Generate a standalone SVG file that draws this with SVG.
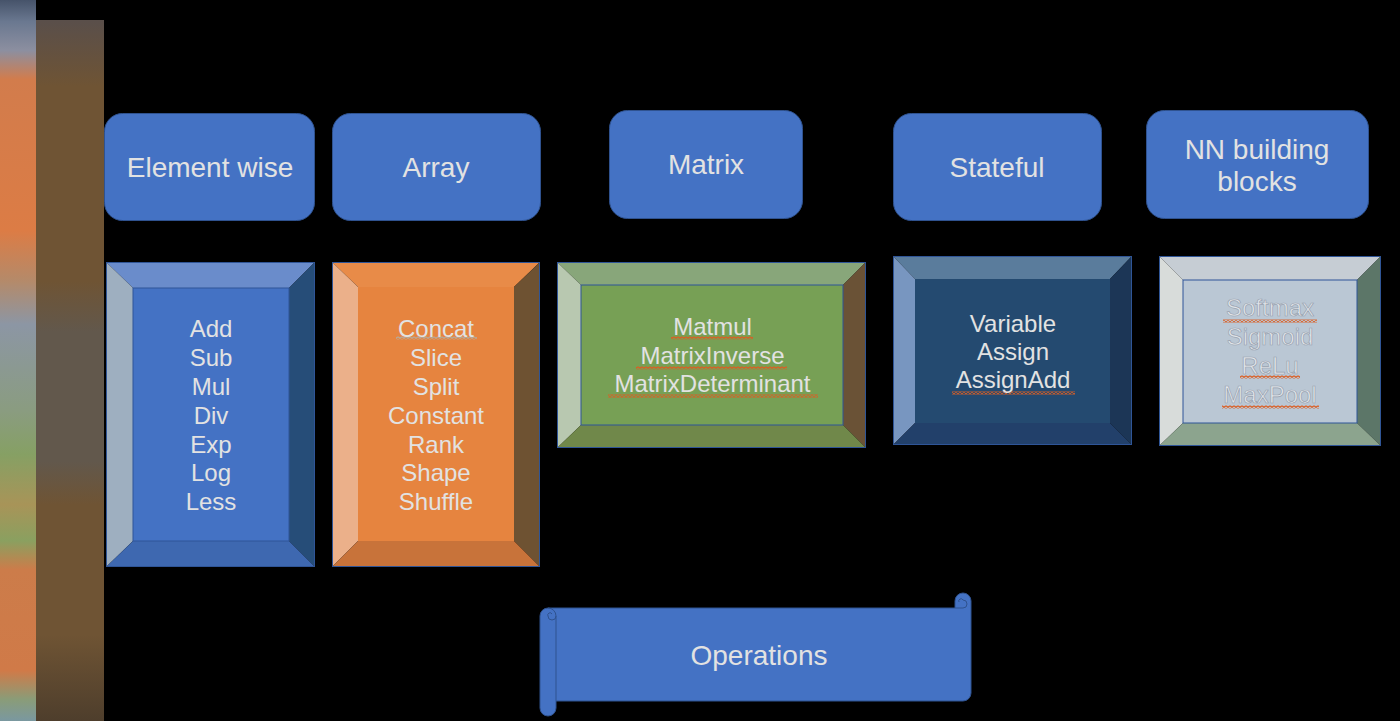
<svg xmlns="http://www.w3.org/2000/svg" width="1400" height="721" viewBox="0 0 1400 721">
  <defs>
    <linearGradient id="stripA" x1="0" y1="0" x2="0" y2="721" gradientUnits="userSpaceOnUse">
      <stop offset="0" stop-color="#46536A"/>
      <stop offset="0.03" stop-color="#6A7890"/>
      <stop offset="0.07" stop-color="#8C8FA0"/>
      <stop offset="0.11" stop-color="#D27C4C"/>
      <stop offset="0.32" stop-color="#DC7C45"/>
      <stop offset="0.39" stop-color="#B48A6A"/>
      <stop offset="0.45" stop-color="#8C96A4"/>
      <stop offset="0.57" stop-color="#8A9C80"/>
      <stop offset="0.63" stop-color="#86A064"/>
      <stop offset="0.70" stop-color="#A89458"/>
      <stop offset="0.75" stop-color="#8AA060"/>
      <stop offset="0.79" stop-color="#CC7C4A"/>
      <stop offset="0.93" stop-color="#D07A48"/>
      <stop offset="0.97" stop-color="#8A9C78"/>
      <stop offset="1" stop-color="#7A98A0"/>
    </linearGradient>
    <linearGradient id="stripB" x1="0" y1="0" x2="0" y2="721" gradientUnits="userSpaceOnUse">
      <stop offset="0.03" stop-color="#5A4F4A"/>
      <stop offset="0.12" stop-color="#6F5434"/>
      <stop offset="0.39" stop-color="#6F5434"/>
      <stop offset="0.46" stop-color="#62584C"/>
      <stop offset="0.64" stop-color="#62584C"/>
      <stop offset="0.70" stop-color="#6F5434"/>
      <stop offset="0.88" stop-color="#6F5434"/>
      <stop offset="1" stop-color="#4E3E2C"/>
    </linearGradient>
    <pattern id="squig" patternUnits="userSpaceOnUse" width="4" height="3">
      <path d="M0,2.5 L2,0.5 L4,2.5" fill="none" stroke="#DA5E24" stroke-width="1.4"/>
    </pattern>
    <pattern id="squigGray" patternUnits="userSpaceOnUse" width="4" height="3">
      <path d="M0,2.5 L2,0.5 L4,2.5" fill="none" stroke="#B8A898" stroke-width="1.4"/>
    </pattern>
  </defs>
  <style>
    .hdr { fill: #4472C4; stroke: #2F528F; stroke-width: 1; }
    .lbl { font-family: "Liberation Sans", Arial, Helvetica, sans-serif; fill: #E2E2E2; text-anchor: middle; }
    .big { font-size: 28px; }
    .ops { font-size: 24px; }
    .edge { stroke: #2F5597; stroke-width: 1; }
    .nn { fill: #E2E6EA; stroke: #98A2B0; stroke-width: 0.7; }
  </style>

  <rect x="0" y="0" width="1400" height="721" fill="#000000"/>

  <!-- left decorative strips -->
  <g id="strips">
    <rect x="0" y="0" width="36" height="721" fill="url(#stripA)"/>
    <rect x="36" y="20" width="68" height="701" fill="url(#stripB)"/>
  </g>

  <!-- header nodes -->
  <g id="hdr-elementwise">
    <rect class="hdr" x="104.5" y="113.5" width="210" height="107" rx="18"/>
    <text class="lbl big" x="210" y="177">Element wise</text>
  </g>
  <g id="hdr-array">
    <rect class="hdr" x="332.5" y="113.5" width="208" height="107" rx="18"/>
    <text class="lbl big" x="436" y="177">Array</text>
  </g>
  <g id="hdr-matrix">
    <rect class="hdr" x="609.5" y="110.5" width="193" height="108" rx="18"/>
    <text class="lbl big" x="706" y="174">Matrix</text>
  </g>
  <g id="hdr-stateful">
    <rect class="hdr" x="893.5" y="113.5" width="208" height="107" rx="18"/>
    <text class="lbl big" x="997" y="177">Stateful</text>
  </g>
  <g id="hdr-nn">
    <rect class="hdr" x="1146.5" y="110.5" width="222" height="108" rx="18"/>
    <text class="lbl big" x="1257" y="159">NN building</text>
    <text class="lbl big" x="1257" y="191">blocks</text>
  </g>

  <!-- bevel boxes -->
  <g id="box-elementwise">
    <polygon points="106,262 315,262 289,288 133,288" fill="#6A8CCB"/>
    <polygon points="106,262 133,288 133,541 106,567" fill="#9EAFC0"/>
    <polygon points="315,262 315,567 289,541 289,288" fill="#264D78"/>
    <polygon points="106,567 133,541 289,541 315,567" fill="#3E68B0"/>
    <rect x="133" y="288" width="156" height="253" fill="#4472C4" class="edge"/>
    <rect x="106.5" y="262.5" width="208" height="304" fill="none" class="edge"/>
    <text class="lbl ops" x="211" y="337">Add</text>
    <text class="lbl ops" x="211" y="366">Sub</text>
    <text class="lbl ops" x="211" y="394.5">Mul</text>
    <text class="lbl ops" x="211" y="423.5">Div</text>
    <text class="lbl ops" x="211" y="452.5">Exp</text>
    <text class="lbl ops" x="211" y="481">Log</text>
    <text class="lbl ops" x="211" y="510">Less</text>
  </g>

  <g id="box-array">
    <polygon points="332,262 540,262 514,287 358,287" fill="#E88B48"/>
    <polygon points="332,262 358,287 358,541 332,567" fill="#EBB08A"/>
    <polygon points="540,262 540,567 514,541 514,287" fill="#6E5232"/>
    <polygon points="332,567 358,541 514,541 540,567" fill="#C8733A"/>
    <rect x="358" y="287" width="156" height="254" fill="#E6843F"/>
    <rect x="332.5" y="262.5" width="207" height="304" fill="none" class="edge"/>
    <rect x="396" y="336.5" width="81" height="3" fill="url(#squigGray)"/>
    <text class="lbl ops" x="436" y="337">Concat</text>
    <text class="lbl ops" x="436" y="366">Slice</text>
    <text class="lbl ops" x="436" y="394.5">Split</text>
    <text class="lbl ops" x="436" y="423.5">Constant</text>
    <text class="lbl ops" x="436" y="452.5">Rank</text>
    <text class="lbl ops" x="436" y="481">Shape</text>
    <text class="lbl ops" x="436" y="510">Shuffle</text>
  </g>

  <g id="box-matrix">
    <polygon points="557,262 866,262 843,285 581,285" fill="#88A67A"/>
    <polygon points="557,262 581,285 581,425 557,448" fill="#B8C8B0"/>
    <polygon points="866,262 866,448 843,425 843,285" fill="#6A5236"/>
    <polygon points="557,448 581,425 843,425 866,448" fill="#70884A"/>
    <rect x="581" y="285" width="262" height="140" fill="#77A055" class="edge"/>
    <rect x="557.5" y="262.5" width="308" height="185" fill="none" class="edge"/>
    <rect x="671" y="336.5" width="82" height="3" fill="url(#squig)"/>
    <rect x="636" y="366.5" width="151" height="3" fill="url(#squig)"/>
    <rect x="608" y="394.5" width="210" height="3" fill="url(#squig)"/>
    <text class="lbl ops" x="712.5" y="335">Matmul</text>
    <text class="lbl ops" x="712.5" y="364">MatrixInverse</text>
    <text class="lbl ops" x="712.5" y="392">MatrixDeterminant</text>
  </g>

  <g id="box-stateful">
    <polygon points="893,256 1132,256 1110,279 915,279" fill="#5A7C9C"/>
    <polygon points="893,256 915,279 915,423 893,445" fill="#7896C0"/>
    <polygon points="1132,256 1132,445 1110,423 1110,279" fill="#1C3656"/>
    <polygon points="893,445 915,423 1110,423 1132,445" fill="#22406A"/>
    <rect x="915" y="279" width="195" height="144" fill="#244A70"/>
    <rect x="893.5" y="256.5" width="238" height="188" fill="none" class="edge"/>
    <rect x="952" y="391.5" width="123" height="3" fill="url(#squig)"/>
    <text class="lbl ops" x="1013" y="332">Variable</text>
    <text class="lbl ops" x="1013" y="360">Assign</text>
    <text class="lbl ops" x="1013" y="388">AssignAdd</text>
  </g>

  <g id="box-nn">
    <polygon points="1159,256 1381,256 1357,280 1183,280" fill="#C6CDD4"/>
    <polygon points="1159,256 1183,280 1183,423 1159,446" fill="#D8DCDA"/>
    <polygon points="1381,256 1381,446 1357,423 1357,280" fill="#5C7668"/>
    <polygon points="1159,446 1183,423 1357,423 1381,446" fill="#8CA48E"/>
    <rect x="1183" y="280" width="174" height="143" fill="#BAC7D4" class="edge"/>
    <rect x="1159.5" y="256.5" width="221" height="189" fill="none" class="edge"/>
    <rect x="1223" y="319.5" width="94" height="3" fill="url(#squig)"/>
    <rect x="1240" y="375.5" width="60" height="3" fill="url(#squig)"/>
    <rect x="1222" y="405.5" width="97" height="3" fill="url(#squig)"/>
    <text class="lbl ops nn" x="1270" y="316">Softmax</text>
    <text class="lbl ops nn" x="1270" y="345">Sigmoid</text>
    <text class="lbl ops nn" x="1270" y="374">ReLu</text>
    <text class="lbl ops nn" x="1270" y="403">MaxPool</text>
  </g>

  <!-- scroll banner -->
  <g id="operations">
    <path d="M548,608 H955 V601 A8,8 0 0 1 971,601 V693 A8,8 0 0 1 963,701 H556 V708 A8,8 0 0 1 540,708 V616 A8,8 0 0 1 548,608 Z" fill="#4472C4" stroke="#2F528F" stroke-width="1"/>
    <path d="M556,616 V701" fill="none" stroke="#2F528F" stroke-width="1"/>
    <path d="M548,608 A8,8 0 0 1 556,616 A4,4 0 0 1 548,616 A2,2 0 0 1 552,614" fill="none" stroke="#2F528F" stroke-width="1"/>
    <path d="M955,608 H963 A4,4 0 0 0 963,600 A2,2 0 0 0 959,602" fill="none" stroke="#2F528F" stroke-width="1"/>
    <text class="lbl big" x="759" y="665">Operations</text>
  </g>
</svg>
